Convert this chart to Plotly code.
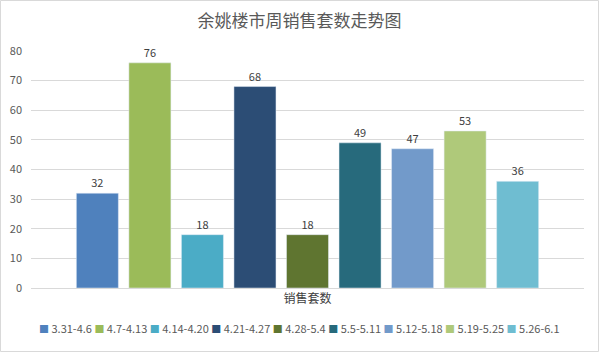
import plotly.graph_objects as go

category = ["销售套数"]
weeks = ["3.31-4.6", "4.7-4.13", "4.14-4.20", "4.21-4.27", "4.28-5.4",
         "5.5-5.11", "5.12-5.18", "5.19-5.25", "5.26-6.1"]
sales = [32, 76, 18, 68, 18, 49, 47, 53, 36]
colors = ["#4F81BD", "#9BBB59", "#4BACC6", "#2C4D75", "#5F7530",
          "#276A7C", "#729ACA", "#AFC97A", "#6FBDD1"]
y_ticks = [0, 10, 20, 30, 40, 50, 60, 70, 80]

W, H = 599, 352
L, R, T, B = 31, 15, 51, 64
pw, ph = W - L - R, H - T - B

fig = go.Figure()
for w, v, c in zip(weeks, sales, colors):
    fig.add_trace(go.Bar(
        x=category, y=[v], name=w, marker_color=c,
        text=[str(v)], textposition="outside",
        textfont=dict(size=11, color="#404040"),
        cliponaxis=False,
    ))

legend_text = "&nbsp;".join(
    f"<span style='color:{c};font-size:10px'>■</span> {w}" for w, c in zip(weeks, colors)
)

fig.update_layout(
    width=W, height=H,
    margin=dict(l=L, r=R, t=T, b=B, autoexpand=False),
    paper_bgcolor="white", plot_bgcolor="white",
    font=dict(family="Microsoft YaHei, Noto Sans CJK SC, sans-serif", color="#595959"),
    title=dict(text="余姚楼市周销售套数走势图", x=0.5, xanchor="center",
               y=0.94, yanchor="middle",
               font=dict(size=17, color="#595959")),
    barmode="group", bargap=0.145, bargroupgap=0.2,
    showlegend=False,
    xaxis=dict(showline=True, linecolor="#D9D9D9", tickfont=dict(size=12, color="#404040"),
               ticks=""),
    yaxis=dict(range=[0, 80], tickvals=y_ticks, showgrid=True, gridcolor="#D9D9D9",
               zeroline=False, tickfont=dict(size=11, color="#595959"), ticks="",
               ticklabelstandoff=8),
    annotations=[dict(text=legend_text, xref="paper", yref="paper",
                      x=(299 - L) / pw, y=(288 - 328) / ph, xanchor="center", yanchor="middle",
                      showarrow=False, font=dict(size=11, color="#595959"))],
    shapes=[dict(type="rect", xref="paper", yref="paper",
                 x0=(0.5 - L) / pw, x1=(W - 0.5 - L) / pw,
                 y0=(288 - (H - 0.5)) / ph, y1=(288 - 0.5) / ph,
                 line=dict(color="#D9D9D9", width=1))],
)
fig.write_html("out.html")
